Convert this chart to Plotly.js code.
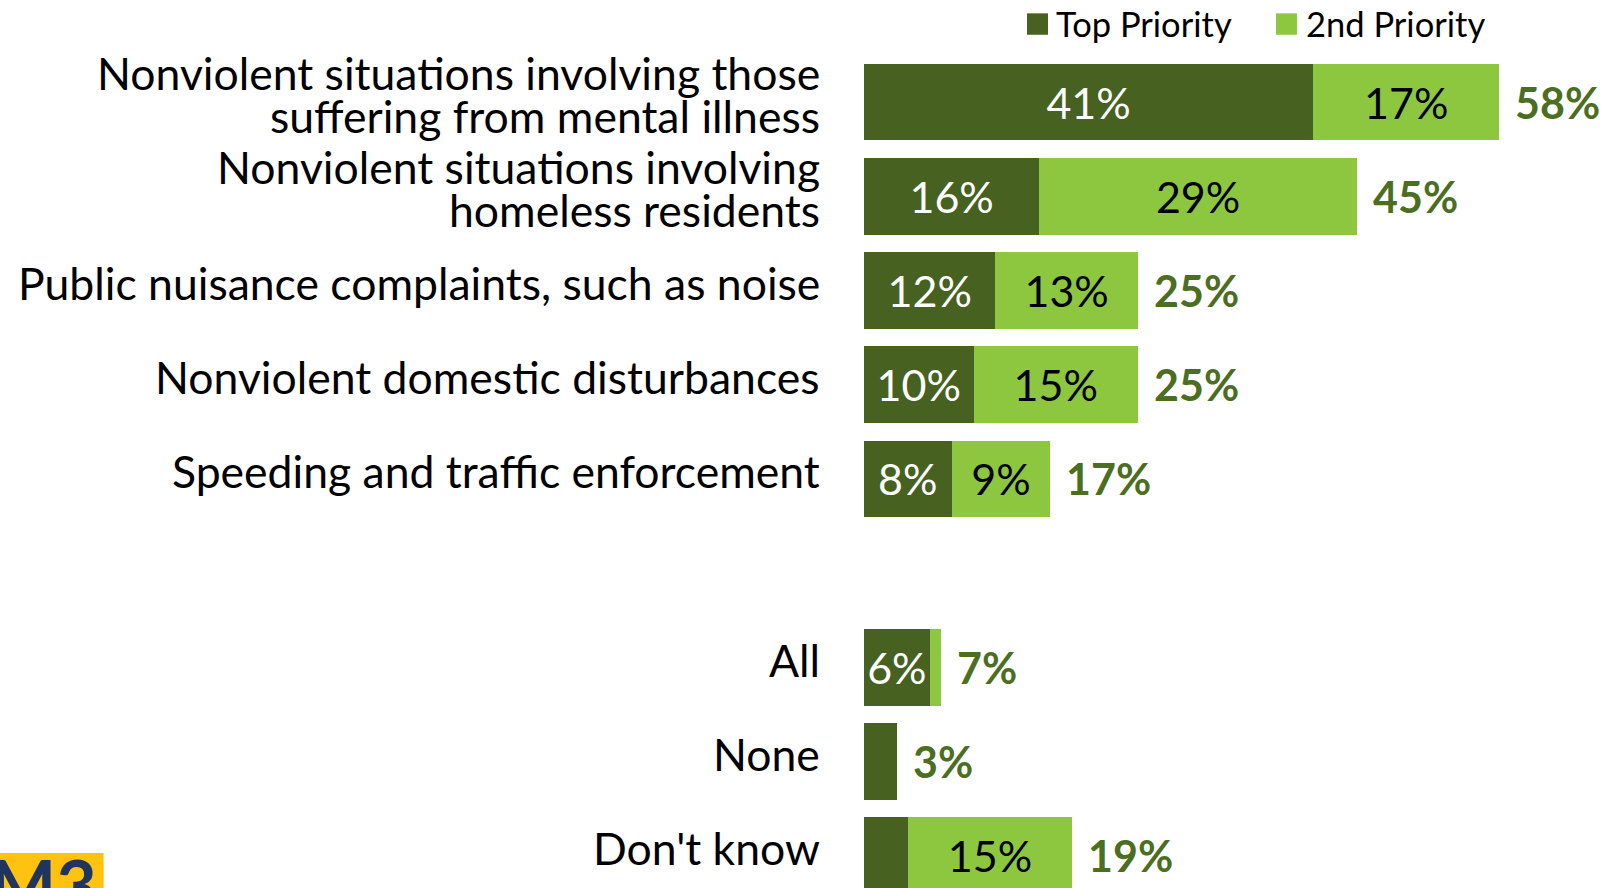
<!DOCTYPE html>
<html>
<head>
<meta charset="utf-8">
<script src="https://cdn.plot.ly/plotly-3.0.1.min.js"></script>
<style>
html,body{margin:0;padding:0;background:#fff;}
#chart{width:1605px;height:888px;}
</style>
</head>
<body>
<div id="chart"></div>
<script>
// ---- data ----
const categories = [
  "Nonviolent situations involving those<br>suffering from mental illness",
  "Nonviolent situations involving<br>homeless residents",
  "Public nuisance complaints, such as noise",
  "Nonviolent domestic disturbances",
  "Speeding and traffic enforcement",
  "All",
  "None",
  "Don't know"
];
const topPriority = [41, 16, 12, 10, 8, 6, 3, 4];
const secondPriority = [17, 29, 13, 15, 9, 1, 0, 15];
const totals = [58, 45, 25, 25, 17, 7, 3, 19];
const seriesNames = ["Top Priority", "2nd Priority"];
const spacer = " ";
// the empty slot between the main items and All/None/Don't know
const categoryOrder = categories.slice(0, 5).concat([spacer], categories.slice(5));

// ---- styles ----
const darkGreen = "#466120";
const lightGreen = "#8DC63F";
const totalColor = "#4B6E21";
const FONT = "Lato, 'Open Sans', sans-serif";
const LABEL_SIZE = 44.5;
const LINE_H = 43;
const colors = [darkGreen, lightGreen];

const label = v => (v >= 5 ? v + "%" : "");

const traces = [
  {
    type: "bar", orientation: "h", name: seriesNames[0],
    y: categories, x: topPriority,
    marker: {color: darkGreen},
    width: 0.815,
    text: topPriority.map(label), textposition: "inside", insidetextanchor: "middle",
    textfont: {color: "#ffffff", size: 43, family: FONT},
    constraintext: "none", hoverinfo: "none", showlegend: false
  },
  {
    type: "bar", orientation: "h", name: seriesNames[1],
    y: categories, x: secondPriority,
    marker: {color: lightGreen},
    width: 0.815,
    text: secondPriority.map(label), textposition: "inside", insidetextanchor: "middle",
    textfont: {color: "#000000", size: 43, family: FONT},
    constraintext: "none", hoverinfo: "none", showlegend: false
  }
];

const annotations = [];

// totals to the right of each bar
categories.forEach((c, i) => annotations.push({
  x: totals[i], y: c, xref: "x", yref: "y",
  text: "<b>" + totals[i] + "%</b>", showarrow: false,
  xanchor: "left", yanchor: "middle", xshift: 14,
  font: {family: FONT, size: 43, color: totalColor}
}));

// category labels (one annotation per line, for tighter line spacing)
categories.forEach(c => {
  const lines = c.split("<br>");
  const n = lines.length;
  lines.forEach((ln, j) => annotations.push({
    x: 0, y: c, xref: "paper", yref: "y",
    text: ln, showarrow: false, xanchor: "right", yanchor: "middle",
    xshift: -42, yshift: ((n - 1) / 2 - j) * LINE_H + 8,
    font: {family: FONT, size: LABEL_SIZE, color: "#000000"}
  }));
});

// custom legend
const legendSquares = [[0.2289, 0.2584], [0.5787, 0.6081]];
const legendTextX = [0.2665, 0.6180];
const shapes = [];
seriesNames.forEach((nm, k) => {
  shapes.push({
    type: "rect", xref: "paper", yref: "paper",
    x0: legendSquares[k][0], x1: legendSquares[k][1], y0: 1.0243, y1: 1.0500,
    fillcolor: colors[k], line: {width: 0}
  });
  annotations.push({
    xref: "paper", yref: "paper", x: legendTextX[k], y: 1.0378,
    xanchor: "left", yanchor: "middle", text: nm, showarrow: false,
    font: {family: FONT, size: 34.5, color: "#000000"}
  });
});

// logo fragment at bottom-left
shapes.push({
  type: "rect", xref: "paper", yref: "paper",
  x0: -1.2135, x1: -1.068, y0: -0.05, y1: 0.042,
  fillcolor: "#FFC20E", line: {width: 0}, layer: "below"
});
annotations.push({
  xref: "paper", yref: "paper", x: -1.2135, y: 0.058, xanchor: "left", yanchor: "top",
  text: "<b>M3</b>", showarrow: false, xshift: -12,
  font: {family: FONT, size: 70, color: "#1F3560"}
});

const layout = {
  width: 1605, height: 888,
  margin: {l: 864, r: 29, t: 55, b: 0, pad: 0},
  paper_bgcolor: "#ffffff", plot_bgcolor: "#ffffff",
  barmode: "stack", bargap: 0.185,
  font: {family: FONT, size: 38, color: "#000000"},
  xaxis: {range: [0, 65], visible: false, fixedrange: true},
  yaxis: {
    type: "category", categoryorder: "array", categoryarray: categoryOrder,
    range: [8.343, -0.5], showgrid: false, zeroline: false, showline: false,
    ticks: "", showticklabels: false
  },
  showlegend: false,
  shapes: shapes,
  annotations: annotations
};

Plotly.newPlot("chart", traces, layout, {displayModeBar: false, staticPlot: true});
</script>
</body>
</html>
